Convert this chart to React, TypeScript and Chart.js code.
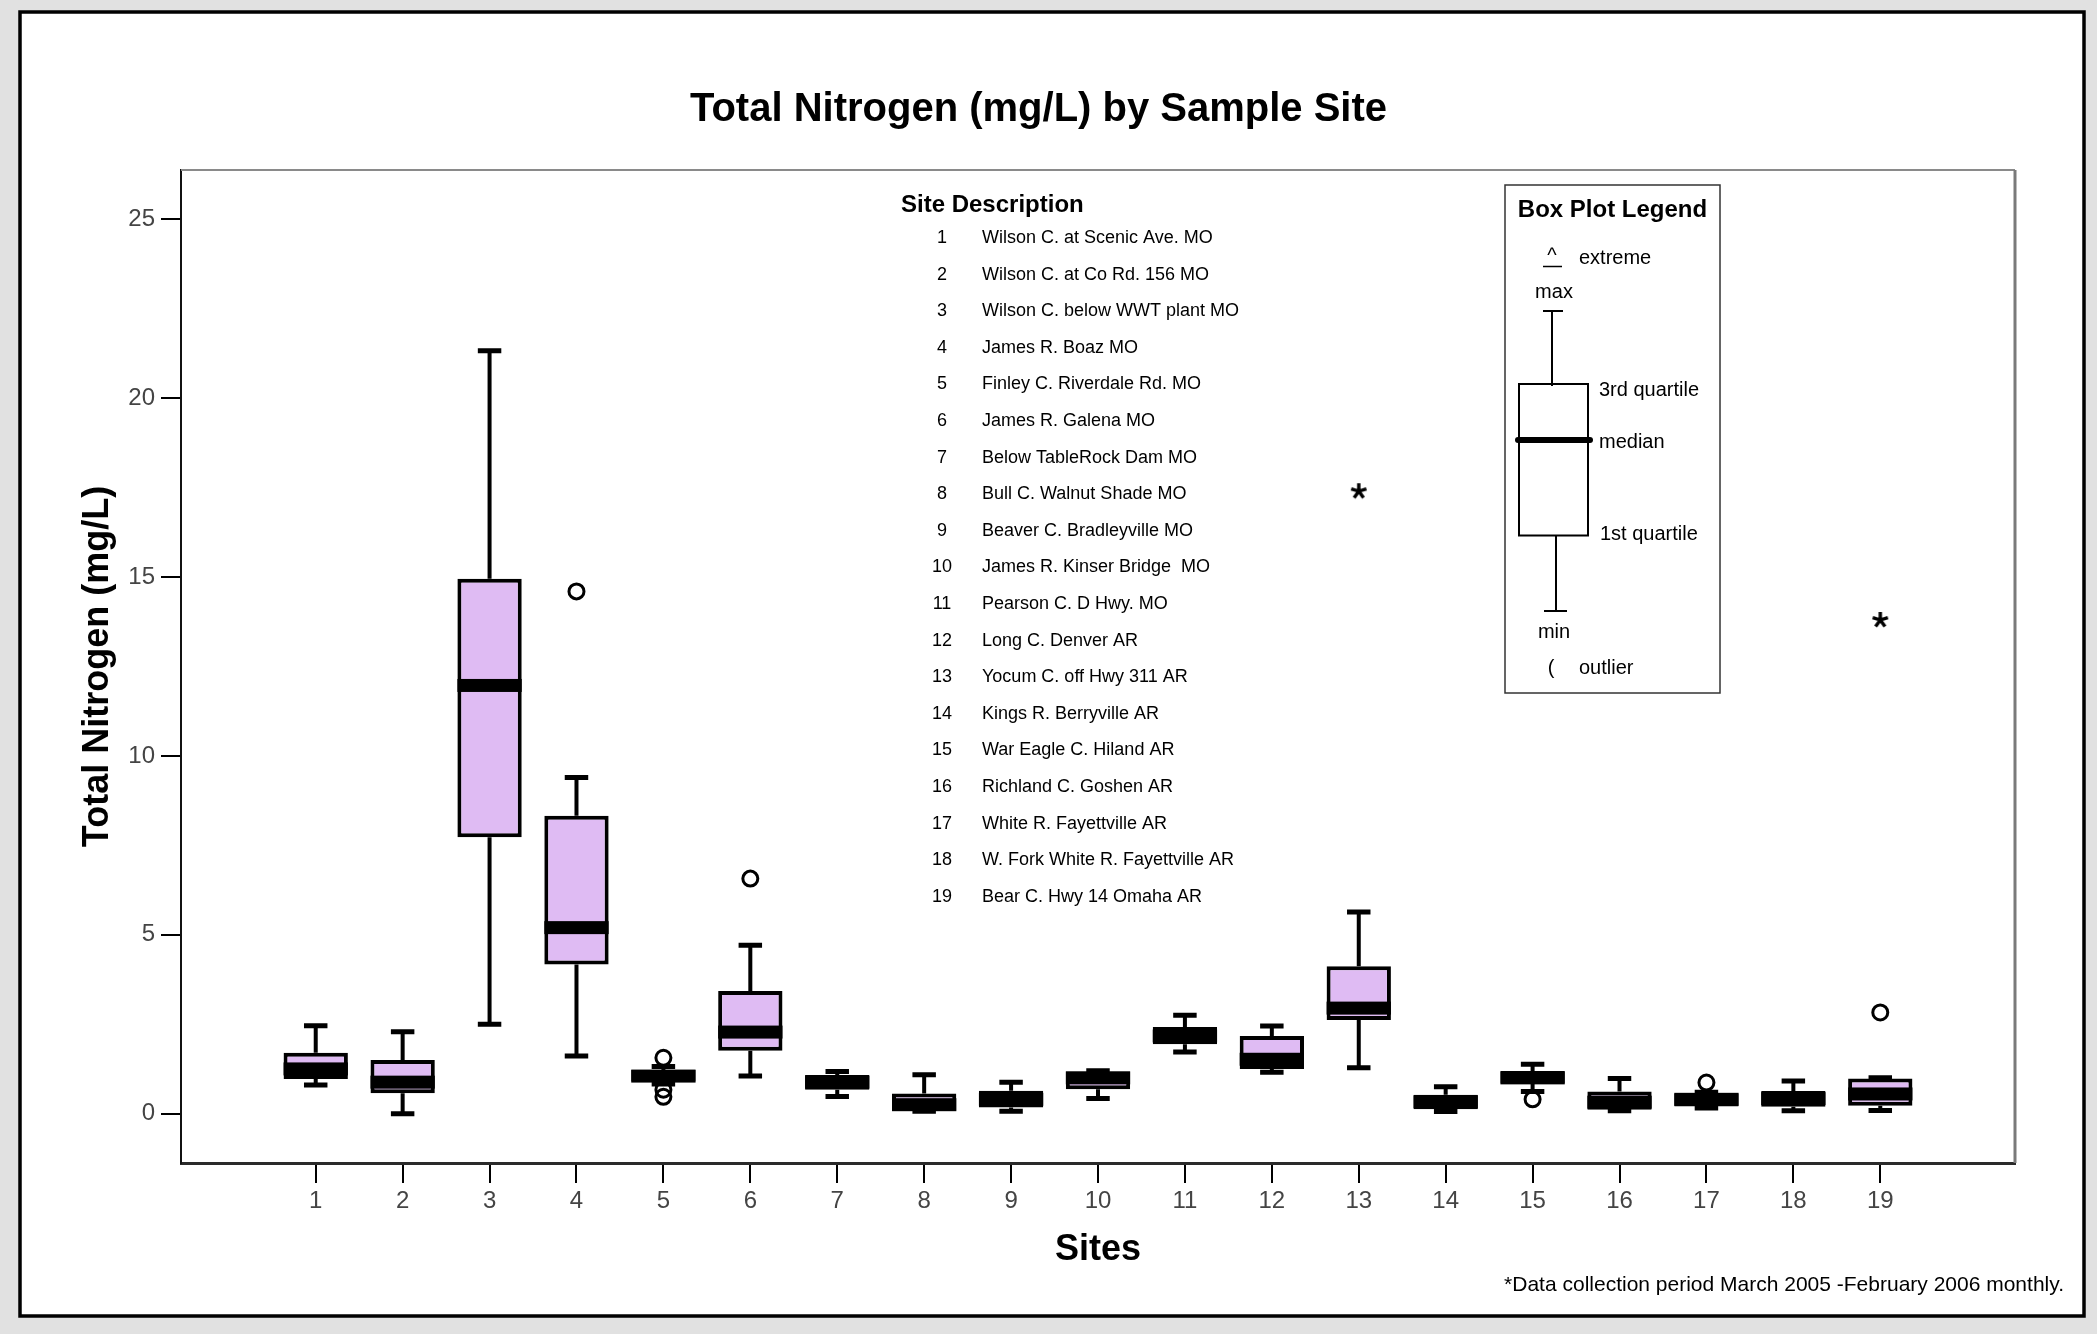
import React, { useEffect, useRef } from 'react';
import { Chart, registerables } from 'chart.js';

Chart.register(...registerables);

const FONT = '"Liberation Sans", Arial, Helvetica, sans-serif';

// ---- Data ----
const sites = [1, 2, 3, 4, 5, 6, 7, 8, 9, 10, 11, 12, 13, 14, 15, 16, 17, 18, 19];
const siteNames = [
  'Wilson C. at Scenic Ave. MO',
  'Wilson C. at Co Rd. 156 MO',
  'Wilson C. below WWT plant MO',
  'James R. Boaz MO',
  'Finley C. Riverdale Rd. MO',
  'James R. Galena MO',
  'Below TableRock Dam MO',
  'Bull C. Walnut Shade MO',
  'Beaver C. Bradleyville MO',
  'James R. Kinser Bridge  MO',
  'Pearson C. D Hwy. MO',
  'Long C. Denver AR',
  'Yocum C. off Hwy 311 AR',
  'Kings R. Berryville AR',
  'War Eagle C. Hiland AR',
  'Richland C. Goshen AR',
  'White R. Fayettville AR',
  'W. Fork White R. Fayettville AR',
  'Bear C. Hwy 14 Omaha AR',
];
const minValues = [0.80, 0.00, 2.50, 1.61, 0.83, 1.05, 0.48, 0.07, 0.07, 0.42, 1.72, 1.16, 1.28, 0.06, 0.62, 0.08, 0.16, 0.08, 0.09];
const q1Values = [0.97, 0.57, 7.73, 4.17, 0.90, 1.76, 0.67, 0.08, 0.17, 0.68, 1.94, 1.25, 2.62, 0.12, 0.84, 0.11, 0.20, 0.19, 0.22];
const medianValues = [1.25, 0.88, 11.97, 5.20, 1.05, 2.28, 0.88, 0.25, 0.40, 1.00, 2.17, 1.52, 2.95, 0.33, 1.00, 0.32, 0.40, 0.42, 0.55];
const q3Values = [1.70, 1.50, 14.95, 8.33, 1.22, 3.43, 1.08, 0.56, 0.64, 1.18, 2.42, 2.17, 4.12, 0.53, 1.19, 0.62, 0.56, 0.63, 0.98];
const maxValues = [2.46, 2.29, 21.33, 9.40, 1.32, 4.71, 1.18, 1.09, 0.88, 1.20, 2.75, 2.45, 5.64, 0.75, 1.38, 0.98, 0.60, 0.91, 1.00];
const outlierSites = [4, 5, 5, 5, 6, 15, 17, 19];
const outlierValues = [14.6, 1.56, 0.67, 0.47, 6.57, 0.40, 0.87, 2.83];
const extremeSites = [13, 19];
const extremeValues = [17.4, 13.8];
const yTickValues = [0, 5, 10, 15, 20, 25];

function makeAsterisk(): HTMLCanvasElement {
  const c = document.createElement('canvas');
  c.width = 20;
  c.height = 20;
  const g = c.getContext('2d') as CanvasRenderingContext2D;
  g.strokeStyle = '#000000';
  g.lineWidth = 3.4;
  g.lineCap = 'butt';
  const cx = 10;
  const cy = 10;
  const r = 8;
  g.beginPath();
  for (let k = 0; k < 5; k++) {
    const ang = -Math.PI / 2 + (k * 2 * Math.PI) / 5;
    g.moveTo(cx, cy);
    g.lineTo(cx + r * Math.cos(ang), cy + r * Math.sin(ang));
  }
  g.stroke();
  return c;
}

const boxPlotPlugin = {
  id: 'boxPlotExtras',
  beforeDraw(chart: any) {
    const { ctx, width, height } = chart;
    ctx.save();
    ctx.fillStyle = '#e1e1e1';
    ctx.fillRect(0, 0, width, height);
    ctx.fillStyle = '#ffffff';
    ctx.fillRect(20, 12, 2064, 1304);
    ctx.strokeStyle = '#000000';
    ctx.lineWidth = 3.5;
    ctx.strokeRect(20, 12, 2064, 1304);
    ctx.restore();
  },
  beforeDatasetsDraw(chart: any) {
    const { ctx, chartArea: a } = chart;
    const xs = chart.scales.x;
    const ys = chart.scales.y;
    ctx.save();
    // top / right frame
    ctx.strokeStyle = '#8a8a8a';
    ctx.lineWidth = 2;
    ctx.beginPath();
    ctx.moveTo(a.left, a.top);
    ctx.lineTo(a.right, a.top);
    ctx.stroke();
    ctx.strokeStyle = '#7a7a7a';
    ctx.lineWidth = 3;
    ctx.beginPath();
    ctx.moveTo(a.right, a.top);
    ctx.lineTo(a.right, a.bottom);
    ctx.stroke();
    // whiskers
    const unit = xs.getPixelForValue(1) - xs.getPixelForValue(0);
    const capHalf = unit * 0.135;
    ctx.strokeStyle = '#000000';
    sites.forEach((s, i) => {
      const x = xs.getPixelForValue(s);
      const yMin = ys.getPixelForValue(minValues[i]);
      const yQ1 = ys.getPixelForValue(q1Values[i]);
      const yQ3 = ys.getPixelForValue(q3Values[i]);
      const yMax = ys.getPixelForValue(maxValues[i]);
      ctx.lineWidth = 4;
      ctx.beginPath();
      ctx.moveTo(x, yQ3);
      ctx.lineTo(x, yMax);
      ctx.moveTo(x, yQ1);
      ctx.lineTo(x, yMin);
      ctx.stroke();
      ctx.lineWidth = 5;
      ctx.beginPath();
      ctx.moveTo(x - capHalf, yMax);
      ctx.lineTo(x + capHalf, yMax);
      ctx.moveTo(x - capHalf, yMin);
      ctx.lineTo(x + capHalf, yMin);
      ctx.stroke();
    });
    ctx.restore();
  },
  afterDatasetDraw(chart: any, args: any) {
    if (args.index !== 0) return;
    const { ctx } = chart;
    const ys = chart.scales.y;
    const meta = chart.getDatasetMeta(0);
    ctx.save();
    ctx.fillStyle = '#000000';
    meta.data.forEach((bar: any, i: number) => {
      const { x, width } = bar.getProps(['x', 'width'], true);
      const y = ys.getPixelForValue(medianValues[i]);
      ctx.fillRect(x - width / 2, y - 6.5, width, 13);
    });
    ctx.restore();
  },
  afterDraw(chart: any) {
    const { ctx } = chart;
    ctx.save();
    ctx.fillStyle = '#000000';
    ctx.textBaseline = 'middle';

    // Site description
    ctx.textAlign = 'left';
    ctx.font = `bold 24px ${FONT}`;
    ctx.fillText('Site Description', 901, 205);
    ctx.font = `18px ${FONT}`;
    sites.forEach((s, i) => {
      const y = 238 + i * 36.6;
      ctx.textAlign = 'center';
      ctx.fillText(String(s), 942, y);
      ctx.textAlign = 'left';
      ctx.fillText(siteNames[i], 982, y);
    });

    // Box plot legend
    ctx.strokeStyle = '#333333';
    ctx.lineWidth = 1.5;
    ctx.strokeRect(1505, 185, 215, 508);
    ctx.textAlign = 'center';
    ctx.font = `bold 24px ${FONT}`;
    ctx.fillText('Box Plot Legend', 1612.5, 210);

    ctx.font = `20px ${FONT}`;
    ctx.fillText('^', 1552, 256);
    ctx.lineWidth = 1.5;
    ctx.strokeStyle = '#000000';
    ctx.beginPath();
    ctx.moveTo(1543, 266.5);
    ctx.lineTo(1562, 266.5);
    ctx.stroke();
    ctx.fillText('max', 1554, 292);
    ctx.fillText('min', 1554, 632);
    ctx.fillText('(', 1551, 668);
    ctx.textAlign = 'left';
    ctx.fillText('extreme', 1579, 258);
    ctx.fillText('3rd quartile', 1599, 390);
    ctx.fillText('median', 1599, 442);
    ctx.fillText('1st quartile', 1600, 534);
    ctx.fillText('outlier', 1579, 668);

    // legend glyph
    ctx.lineWidth = 2;
    ctx.beginPath();
    ctx.moveTo(1552, 311);
    ctx.lineTo(1552, 386);
    ctx.moveTo(1543, 311);
    ctx.lineTo(1563, 311);
    ctx.moveTo(1556, 535.5);
    ctx.lineTo(1556, 611);
    ctx.moveTo(1544, 611);
    ctx.lineTo(1567, 611);
    ctx.stroke();
    ctx.strokeRect(1519, 384, 69, 151.5);
    ctx.lineWidth = 6;
    ctx.lineCap = 'round';
    ctx.beginPath();
    ctx.moveTo(1518, 440);
    ctx.lineTo(1590, 440);
    ctx.stroke();

    // footnote
    ctx.lineCap = 'butt';
    ctx.textAlign = 'right';
    ctx.font = `21px ${FONT}`;
    ctx.fillText('*Data collection period March 2005 -February 2006 monthly.', 2064, 1285);
    ctx.restore();
  },
};

export default function App() {
  const canvasRef = useRef<HTMLCanvasElement | null>(null);

  useEffect(() => {
    if (!canvasRef.current) return;
    Chart.defaults.font.family = FONT;
    const asterisk = makeAsterisk();
    const chart = new Chart(canvasRef.current, {
      type: 'bar',
      data: {
        datasets: [
          {
            type: 'bar',
            label: 'IQR',
            data: sites.map((s, i) => ({ x: s, y: [q1Values[i], q3Values[i]] })) as any,
            backgroundColor: '#dfbbf3',
            borderColor: '#000000',
            borderWidth: 4,
            borderSkipped: false,
            barPercentage: 0.74,
            categoryPercentage: 1.0,
          } as any,
          {
            type: 'scatter',
            label: 'Outliers',
            data: outlierSites.map((s, i) => ({ x: s, y: outlierValues[i] })),
            pointStyle: 'circle',
            pointRadius: 7.5,
            pointBorderWidth: 3,
            pointBorderColor: '#000000',
            pointBackgroundColor: 'rgba(0,0,0,0)',
          } as any,
          {
            type: 'scatter',
            label: 'Extremes',
            data: extremeSites.map((s, i) => ({ x: s, y: extremeValues[i] })),
            pointStyle: asterisk,
            pointRadius: 8,
          } as any,
        ],
      },
      options: {
        responsive: true,
        maintainAspectRatio: false,
        animation: false,
        events: [],
        layout: { padding: { left: 62, right: 82, top: 0, bottom: 0 } },
        plugins: {
          legend: { display: false },
          tooltip: { enabled: false },
          title: {
            display: true,
            text: 'Total Nitrogen (mg/L) by Sample Site',
            color: '#000000',
            font: { family: FONT, size: 40, weight: 'bold' },
            padding: { top: 86, bottom: 36 },
          },
        },
        scales: {
          x: {
            type: 'linear',
            offset: false,
            min: -0.55,
            max: 20.55,
            afterBuildTicks: (s: any) => {
              s.ticks = sites.map((v) => ({ value: v }));
            },
            afterFit: (s: any) => {
              s.height = 171;
            },
            grid: { offset: false, drawOnChartArea: false, drawTicks: true, tickLength: 20, tickColor: '#000000', lineWidth: 2 },
            border: { display: true, color: '#2a2a2a', width: 3 },
            ticks: {
              color: '#444444',
              font: { size: 24 },
              padding: 4,
              autoSkip: false,
              maxRotation: 0,
              callback: (v: any) => String(v),
            },
            title: {
              display: true,
              text: 'Sites',
              color: '#000000',
              font: { family: FONT, size: 36, weight: 'bold' },
              padding: { top: 0, bottom: 62 },
            },
          },
          y: {
            type: 'linear',
            min: -1.38,
            max: 26.38,
            afterBuildTicks: (s: any) => {
              s.ticks = yTickValues.map((v) => ({ value: v }));
            },
            afterFit: (s: any) => {
              s.width = 119;
            },
            grid: { drawOnChartArea: false, drawTicks: true, tickLength: 20, tickColor: '#000000', lineWidth: 2 },
            border: { display: true, color: '#111111', width: 2 },
            ticks: {
              color: '#444444',
              font: { size: 24 },
              padding: 6,
              callback: (v: any) => String(v),
            },
            title: {
              display: true,
              text: 'Total Nitrogen (mg/L)',
              color: '#000000',
              font: { family: FONT, size: 36, weight: 'bold' },
              padding: { top: 14, bottom: 0 },
            },
          },
        },
      } as any,
      plugins: [boxPlotPlugin],
    });
    return () => chart.destroy();
  }, []);

  return (
    <div style={{ position: 'fixed', left: 0, top: 0, width: 2097, height: 1334 }}>
      <canvas ref={canvasRef} />
    </div>
  );
}
